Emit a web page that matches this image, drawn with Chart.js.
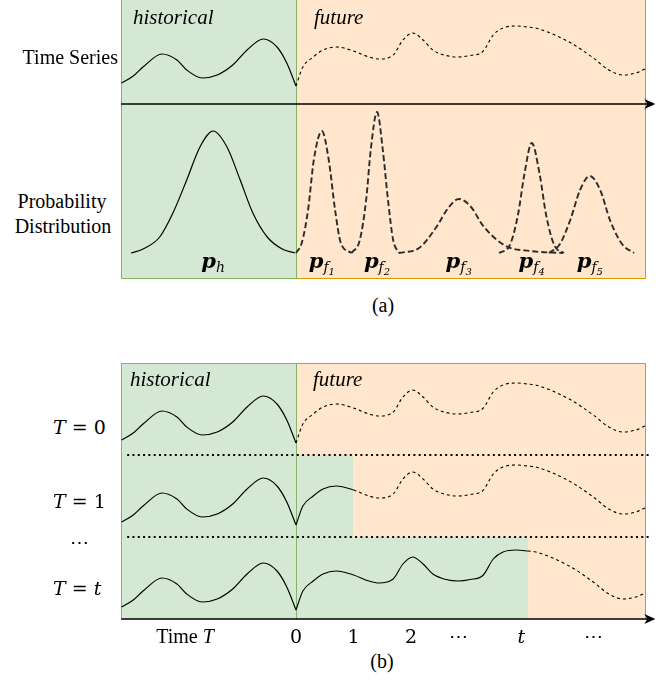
<!DOCTYPE html>
<html>
<head>
<meta charset="utf-8">
<script src="https://cdn.jsdelivr.net/npm/chart.js@4.4.1/dist/chart.umd.min.js"></script>
<style>
  html, body { margin: 0; padding: 0; background: #fff; }
  #fig { position: relative; width: 672px; height: 688px; overflow: hidden;
         font-family: "Liberation Serif", Tinos, "Times New Roman", Times, "DejaVu Serif Condensed", "DejaVu Serif", serif; color: #000; }
  #fig canvas { position: absolute; }
  .lbl { position: absolute; white-space: nowrap; line-height: 1; font-size: 20px; z-index: 5; }
  .it { font-style: italic; font-size: 21px; }
  .m { font-family: "DejaVu Serif", serif; font-size: 19px; }
  .m i { font-style: italic; }
  .p { font-family: "DejaVu Serif", serif; font-style: italic; font-weight: bold; font-size: 21px; }
  .p sub { font-size: 14px; vertical-align: -4px; font-weight: normal; }
  .p sub sub { font-size: 10px; vertical-align: -3px; }
</style>
</head>
<body>
<div id="fig"></div>
<script>
// time axis: 0 is "now", 1 unit = one forecast step
const X_MIN = -3.13, X_MAX = 6.4;
const PANEL_START = -3.04, PANEL_END = 6.07, ARROW_TIP = 6.25;

// observed series (historical part)
const histX = [-3.03, -2.83, -2.66, -2.33, -2.07, -1.90, -1.63, -1.37, -1.10, -0.85, -0.57, -0.33, -0.16, 0];
const histY = [21, 28, 37, 50, 44, 34, 26, 29, 39, 54, 65, 57, 41, 18];
// future part of the series
const futX = [0, 0.12, 0.30, 0.47, 0.70, 1.00, 1.27, 1.44, 1.69, 1.86, 2.03, 2.21, 2.38, 2.61, 2.82, 3.03,
              3.25, 3.43, 3.60, 3.83, 4.03, 4.17, 4.75, 5.17, 5.44, 5.69, 5.91, 6.07];
const futY = [18, 37, 47, 54, 57, 53, 47, 45, 49, 64, 71, 64, 54, 48.5, 47, 48.5,
              52.5, 69, 76, 78, 77, 76, 62, 46, 34, 29, 31, 35];

// probability densities
const phX = [-2.87, -2.66, -2.37, -2.14, -1.90, -1.67, -1.44, -1.20, -0.97, -0.75, -0.50, -0.24, -0.02];
const phY = [0, 4, 16, 40, 73, 106, 122, 106, 73, 40, 16, 4, 0];
const f1X = [0, 0.10, 0.21, 0.31, 0.45, 0.57, 0.68, 0.78, 0.97];
const f1Y = [0, 10, 43, 93, 122, 93, 43, 10, 0];
const f2X = [0.97, 1.11, 1.22, 1.30, 1.41, 1.51, 1.60, 1.69, 1.79];
const f2Y = [0, 13, 53, 103, 141, 103, 53, 13, 0];
const f3X = [1.79, 2.14, 2.43, 2.66, 2.83, 3.03, 3.27, 3.65, 4.07, 4.64];
const f3Y = [0, 5, 25, 46, 54, 47, 26, 7, 2, 0];
const f4X = [3.53, 3.72, 3.86, 3.97, 4.10, 4.24, 4.35, 4.49, 4.66];
const f4Y = [0, 8, 38, 78, 110, 78, 38, 8, 0];
const f5X = [4.40, 4.59, 4.77, 4.94, 5.11, 5.29, 5.46, 5.67, 5.88];
const f5Y = [0, 9, 33, 63, 77, 63, 33, 9, 0];
const distLabels = ['<i>p</i><sub><i>h</i></sub>', '<i>p</i><sub><i>f</i><sub>1</sub></sub>',
  '<i>p</i><sub><i>f</i><sub>2</sub></sub>', '<i>p</i><sub><i>f</i><sub>3</sub></sub>',
  '<i>p</i><sub><i>f</i><sub>4</sub></sub>', '<i>p</i><sub><i>f</i><sub>5</sub></sub>'];

// how far the observed (green) part reaches in each row of (b)
const stepSplit = [0, 1, 4.03];
const rowLabels = ['<i>T</i> = 0', '<i>T</i> = 1', '⋯', '<i>T</i> = <i>t</i>'];
const tickVals = [-1.93, 0, 1, 2, 2.83, 3.92, 5.17];
const tickLabels = ['Time <i>T</i>', '0', '1', '2', '⋯', '<i>t</i>', '⋯'];

const GREEN = '#d5e8d4', GREEN_EDGE = '#82b366', ORANGE = '#ffe6cc', ORANGE_EDGE = '#d79b00';
const PAD = 8, LEFT = 116, WIDTH = 548;
const fig = document.getElementById('fig');

const pts = (xs, ys) => xs.map((x, i) => ({ x, y: ys[i] }));

const decoPlugin = {
  id: 'deco',
  beforeDatasetsDraw(chart, args, o) {
    const { ctx, chartArea: a, scales: { x } } = chart;
    const x0 = Math.round(x.getPixelForValue(PANEL_START)), xs = Math.round(x.getPixelForValue(0));
    const xe = Math.round(x.getPixelForValue(PANEL_END)), xg = Math.round(x.getPixelForValue(o.split));
    const h = a.bottom - a.top;
    ctx.save();
    ctx.fillStyle = ORANGE; ctx.fillRect(xs, a.top, xe - xs, h);
    ctx.fillStyle = GREEN; ctx.fillRect(x0, a.top, xg - x0, h);
    ctx.lineWidth = 1;
    const seg = (c, x1, y1, x2, y2) => { ctx.strokeStyle = c; ctx.beginPath(); ctx.moveTo(x1, y1); ctx.lineTo(x2, y2); ctx.stroke(); };
    seg(ORANGE_EDGE, xe + 0.5, a.top, xe + 0.5, a.bottom);
    seg(GREEN_EDGE, x0 + 0.5, a.top, x0 + 0.5, a.bottom);
    seg(GREEN_EDGE, xs + 0.5, a.top, xs + 0.5, a.bottom);
    if (o.edgeTop) { seg(ORANGE_EDGE, xs, a.top + 0.5, xe + 1, a.top + 0.5); seg(GREEN_EDGE, x0, a.top + 0.5, xs + 1, a.top + 0.5); }
    if (o.edgeBottom) { seg(ORANGE_EDGE, xs, a.bottom - 0.5, xe + 1, a.bottom - 0.5); seg(GREEN_EDGE, x0, a.bottom - 0.5, xs + 1, a.bottom - 0.5); }
    ctx.restore();
  },
  afterDatasetsDraw(chart, args, o) {
    const { ctx, chartArea: a, scales: { x } } = chart;
    const x0 = x.getPixelForValue(PANEL_START), xe = x.getPixelForValue(PANEL_END);
    ctx.save();
    if (o.dotsTop) {
      ctx.strokeStyle = '#000'; ctx.lineWidth = 2; ctx.setLineDash([2, 3.3]);
      ctx.beginPath(); ctx.moveTo(x0 + 6, a.top); ctx.lineTo(xe + 4, a.top); ctx.stroke();
      ctx.setLineDash([]);
    }
    const arrow = (y) => {
      const tip = x.getPixelForValue(ARROW_TIP);
      ctx.strokeStyle = '#000'; ctx.lineWidth = 1.3;
      ctx.beginPath(); ctx.moveTo(x0, y); ctx.lineTo(tip - 6, y); ctx.stroke();
      ctx.fillStyle = '#000'; ctx.beginPath();
      ctx.moveTo(tip, y); ctx.lineTo(tip - 11, y - 5); ctx.lineTo(tip - 8, y); ctx.lineTo(tip - 11, y + 5);
      ctx.closePath(); ctx.fill();
    };
    if (o.arrowTop) arrow(a.top);
    if (o.arrowBottom) arrow(a.bottom);
    ctx.restore();
  }
};

function rowChart(row, datasets) {
  const c = document.createElement('canvas');
  c.width = WIDTH; c.height = row.bottom - row.top + 2 * PAD;
  c.style.left = LEFT + 'px'; c.style.top = (row.top - PAD) + 'px';
  fig.appendChild(c);
  return new Chart(c, {
    type: 'line',
    data: { datasets },
    options: {
      responsive: false, animation: false, events: [],
      layout: { padding: { top: PAD, bottom: PAD, left: 0, right: 0 } },
      plugins: { legend: { display: false }, tooltip: { enabled: false }, deco: row.deco },
      elements: { point: { radius: 0, hoverRadius: 0 } },
      scales: {
        x: { type: 'linear', min: X_MIN, max: X_MAX, display: false },
        y: { type: 'linear', min: row.yMin, max: row.yMax, display: false }
      }
    },
    plugins: [decoPlugin]
  });
}

function seriesSets(split) {
  return [
    { data: pts(histX, histY), borderColor: '#000', borderWidth: 1.2, cubicInterpolationMode: 'monotone' },
    { data: pts(futX, futY), borderColor: '#000', borderWidth: 1.1, cubicInterpolationMode: 'monotone',
      segment: { borderDash: ctx => ctx.p0.parsed.x >= split - 1e-6 ? [3, 3] : [] } }
  ];
}

const dashed = { borderColor: '#2b2b2b', borderWidth: 1.9, borderDash: [6, 3], cubicInterpolationMode: 'monotone' };
const distSets = [
  { data: pts(phX, phY), borderColor: '#000', borderWidth: 1.2, cubicInterpolationMode: 'monotone' },
  { data: pts(f1X, f1Y), ...dashed },
  { data: pts(f2X, f2Y), ...dashed },
  { data: pts(f3X, f3Y), ...dashed },
  { data: pts(f4X, f4Y), ...dashed },
  { data: pts(f5X, f5Y), ...dashed }
];

// panel (a)
rowChart({ top: 0, bottom: 104, yMin: 0, yMax: 104, deco: { split: 0 } }, seriesSets(0));
const distChart = rowChart({ top: 104, bottom: 279, yMin: -26, yMax: 149,
  deco: { split: 0, arrowTop: true, edgeBottom: true } }, distSets);
// panel (b)
rowChart({ top: 363, bottom: 455, yMin: 6, yMax: 98, deco: { split: stepSplit[0], edgeTop: true } }, seriesSets(stepSplit[0]));
rowChart({ top: 455, bottom: 537, yMin: 6, yMax: 88, deco: { split: stepSplit[1], dotsTop: true } }, seriesSets(stepSplit[1]));
const lastRow = rowChart({ top: 537, bottom: 619, yMin: 9, yMax: 91,
  deco: { split: stepSplit[2], dotsTop: true, arrowBottom: true } }, seriesSets(stepSplit[2]));

// text
function label(html, x, baseline, cls, align) {
  const s = document.createElement('div');
  s.className = 'lbl ' + (cls || '');
  s.innerHTML = html;
  fig.appendChild(s);
  const shift = align === 'right' ? -100 : align === 'left' ? 0 : -50;
  s.style.left = x + 'px';
  s.style.top = (baseline - 0.84 * parseFloat(getComputedStyle(s).fontSize)) + 'px';
  s.style.transform = 'translateX(' + shift + '%)';
  return s;
}

label('Time Series', 118, 64, '', 'right');
label('Probability', 62, 208);
label('Distribution', 63, 233);
label('historical', 133, 25, 'it', 'left');
label('future', 314, 25, 'it', 'left');
label('(a)', 383, 312);

distChart.data.datasets.forEach((ds, i) => {
  const peak = ds.data.reduce((m, p) => (p.y > m.y ? p : m));
  label(distLabels[i], LEFT + distChart.scales.x.getPixelForValue(peak.x), 268, 'p');
});

label('historical', 130, 387, 'it', 'left');
label('future', 313, 387, 'it', 'left');
[434, 508, 549, 595].forEach((b, i) => label(rowLabels[i], i === 2 ? 79 : 53, b, 'm', i === 2 ? 'center' : 'left'));

tickVals.forEach((v, i) => {
  label(tickLabels[i], LEFT + lastRow.scales.x.getPixelForValue(v), 643, i === 0 ? '' : 'm');
});
label('(b)', 382, 668);
</script>
</body>
</html>
